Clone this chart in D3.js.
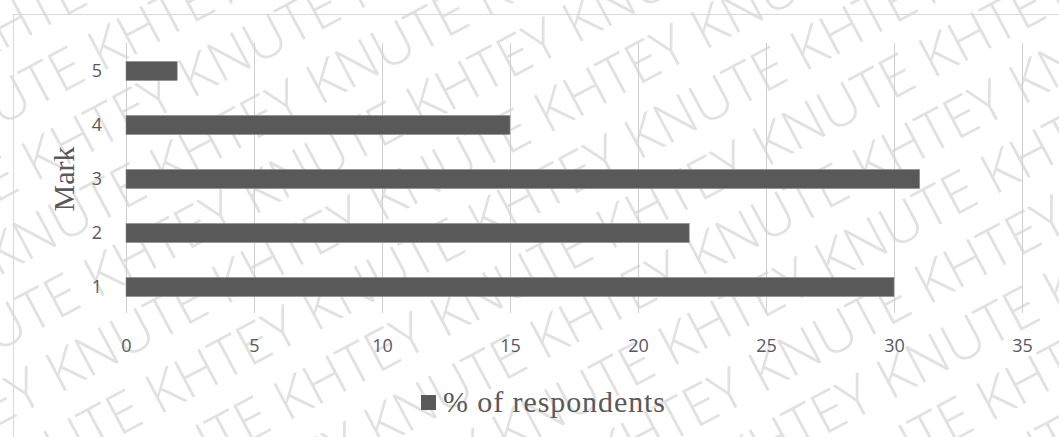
<!DOCTYPE html>
<html>
<head>
<meta charset="utf-8">
<script src="https://cdn.jsdelivr.net/npm/d3@7"></script>
<style>
  html, body { margin: 0; padding: 0; background: #fff; }
  svg { display: block; }
</style>
</head>
<body>
<svg id="chart" width="1059" height="437"></svg>
<script>
// Survey data: share of respondents by mark
const marks = ["1", "2", "3", "4", "5"];
const respondents = [30, 22, 31, 15, 2];
const xTicks = [0, 5, 10, 15, 20, 25, 30, 35];
const seriesName = "% of respondents";
const axisTitle = "Mark";
const watermarkWords = ["KHTEY", "KNUTE"];

const W = 1059, H = 437;
const svg = d3.select("#chart");
const barColor = "#595959";
const textColor = "#595959";

svg.append("rect").attr("width", W).attr("height", H).attr("fill", "#fff");

// repeated diagonal watermark, clipped to the page
svg.append("clipPath").attr("id", "page")
  .append("rect").attr("width", W).attr("height", H);
const wm = svg.append("g").attr("clip-path", "url(#page)")
  .append("g")
  .attr("transform", `translate(${W / 2},${H / 2}) rotate(-28)`)
  .attr("font-family", "'Open Sans', sans-serif")
  .attr("font-weight", 300)
  .attr("font-size", 56)
  .attr("fill", "#e1e1e1");
const rowLine = d3.range(14).map(i => watermarkWords[i % 2]).join(" ");
const rows = d3.range(-8, 9);
wm.selectAll("text").data(rows).join("text")
  .attr("x", d => -1150 + (d % 2 === 0 ? 0 : 110))
  .attr("y", d => d * 66)
  .text(rowLine);

// outer frame
svg.append("rect")
  .attr("x", 13.5).attr("y", 14.5)
  .attr("width", W + 20).attr("height", H + 20)
  .attr("fill", "none").attr("stroke", "#d9d9d9").attr("stroke-width", 1);

const x = d3.scaleLinear().domain([0, 35]).range([126, 1022]);
const y = d3.scaleBand()
  .domain(marks.slice().reverse())
  .range([44, 314])
  .paddingInner(0.648)
  .paddingOuter(0.324);

// vertical gridlines
svg.append("g").selectAll("line").data(xTicks).join("line")
  .attr("x1", d => Math.round(x(d)) + 0.5)
  .attr("x2", d => Math.round(x(d)) + 0.5)
  .attr("y1", 43).attr("y2", 313)
  .attr("stroke", "#cfcfcf").attr("stroke-width", 1);

// bars
svg.append("g").selectAll("rect").data(marks).join("rect")
  .attr("x", x(0))
  .attr("y", d => y(d))
  .attr("width", (d, i) => x(respondents[i]) - x(0))
  .attr("height", y.bandwidth())
  .attr("fill", barColor)
  .attr("stroke", "#8c8c8c").attr("stroke-width", 0.6);

// x axis labels
const xAxis = svg.append("g")
  .attr("transform", "translate(0,313)")
  .call(d3.axisBottom(x).tickValues(xTicks).tickSize(0).tickPadding(26));
xAxis.select(".domain").remove();
xAxis.selectAll("text")
  .attr("font-family", "'Open Sans', sans-serif")
  .attr("font-size", 18)
  .attr("fill", textColor);

// y axis labels
const yAxis = svg.append("g")
  .attr("transform", `translate(${x(0)},0)`)
  .call(d3.axisLeft(y).tickSize(0).tickPadding(24));
yAxis.select(".domain").remove();
yAxis.selectAll("text")
  .attr("font-family", "'Open Sans', sans-serif")
  .attr("font-size", 18)
  .attr("fill", textColor);

// axis title
svg.append("text")
  .attr("transform", "translate(74,179) rotate(-90)")
  .attr("text-anchor", "middle")
  .attr("font-family", "'Liberation Serif', 'Times New Roman', serif")
  .attr("font-size", 30)
  .attr("fill", textColor)
  .text(axisTitle);

// legend
const legend = svg.append("g");
legend.append("rect")
  .attr("x", 421).attr("y", 395).attr("width", 15).attr("height", 15)
  .attr("fill", barColor);
legend.append("text")
  .attr("x", 443).attr("y", 412)
  .attr("font-family", "'Liberation Serif', 'Times New Roman', serif")
  .attr("font-size", 30)
  .attr("textLength", 222)
  .attr("fill", textColor)
  .text(seriesName);
</script>
</body>
</html>
